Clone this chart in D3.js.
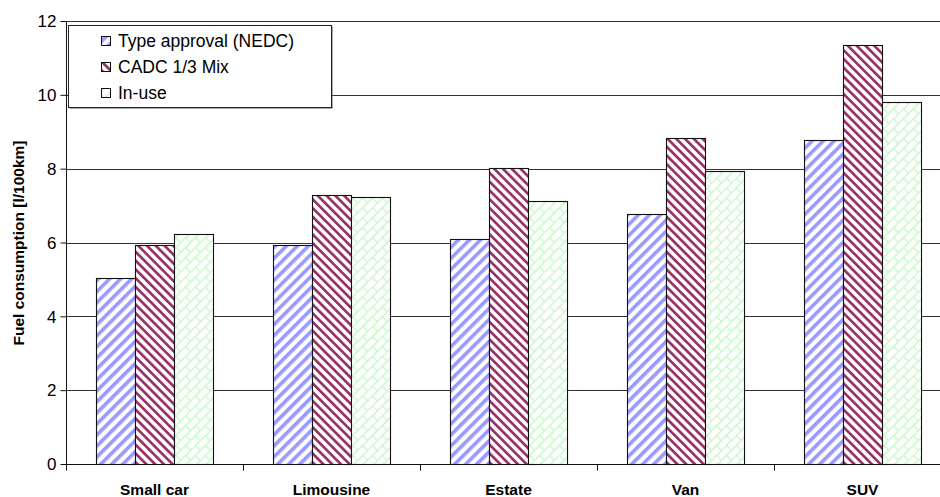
<!DOCTYPE html>
<html><head><meta charset="utf-8">
<script src="https://cdn.jsdelivr.net/npm/d3@7"></script>
<style>body{margin:0;background:#fff}svg{display:block}svg text{font-family:"Liberation Sans",Arial,sans-serif}</style>
</head><body><svg id="c" width="940" height="497"></svg>
<script>
const categories = ["Small car","Limousine","Estate","Van","SUV"];
const seriesNames = ["Type approval (NEDC)","CADC 1/3 Mix","In-use"];
const typeApproval = [5.03,5.93,6.1,6.78,8.77];
const cadcMix = [5.93,7.28,8.03,8.83,11.35];
const inUse = [6.24,7.22,7.12,7.95,9.8];
const yTicks = [0,2,4,6,8,10,12];

const seriesValues = [typeApproval, cadcMix, inUse];
const svg = d3.select("#c");
const L=66, T=21, B=464, R=951;
const y = d3.scaleLinear().domain([0,12]).range([B,T]);
const x0 = d3.scaleBand().domain(categories).range([L,R]).padding(0);
const x1 = d3.scaleBand().domain(seriesNames).range([30,147]).padding(0);

const defs = svg.append("defs");
function stripe(id, angle, period, w, color){
  const p = defs.append("pattern").attr("id",id).attr("patternUnits","userSpaceOnUse")
    .attr("width",period).attr("height",period).attr("patternTransform",`rotate(${angle})`);
  p.append("rect").attr("width",period).attr("height",period).attr("fill","#fff");
  p.append("rect").attr("width",w).attr("height",period).attr("fill",color);
}
stripe("pBlue",45,7.8,3.6,"#9999ff");
stripe("pRed",-45,6.2,2.7,"#993366");
{
  const s=14, h=7;
  const p = defs.append("pattern").attr("id","pGreen").attr("patternUnits","userSpaceOnUse")
    .attr("width",s).attr("height",s).attr("patternTransform","rotate(-45)");
  p.append("rect").attr("width",s).attr("height",s).attr("fill","#fff");
  const g = p.append("g").attr("stroke","#c6f7c6").attr("stroke-width",1.3).attr("fill","none");
  g.append("path").attr("d",`M0,0.5H${s}M0,${h+0.5}H${s}M0.5,0V${h}M${h+0.5},${h}V${s}`);
}
const fills = ["url(#pBlue)","url(#pRed)","url(#pGreen)"];

// gridlines
svg.append("g").selectAll("line").data(yTicks.filter(d=>d>0)).join("line")
  .attr("x1",L).attr("x2",R).attr("y1",d=>Math.round(y(d))+0.5).attr("y2",d=>Math.round(y(d))+0.5)
  .attr("stroke","#333").attr("stroke-width",1);

// bars
const groups = svg.append("g").selectAll("g").data(categories).join("g")
  .attr("transform",d=>`translate(${x0(d)},0)`);
groups.selectAll("rect").data((c,i)=>seriesNames.map((s,j)=>({s,j,v:seriesValues[j][i]}))).join("rect")
  .attr("x",d=>x1(d.s)+0.5).attr("width",x1.bandwidth())
  .attr("y",d=>Math.round(y(d.v))+0.5).attr("height",d=>B-Math.round(y(d.v)))
  .attr("fill",d=>fills[d.j]).attr("stroke","#111").attr("stroke-width",1.1);

// y axis
const ya = svg.append("g").attr("transform",`translate(${L+0.5},0)`)
  .call(d3.axisLeft(y).tickValues(yTicks).tickSize(6).tickPadding(4).tickFormat(d3.format("d")));
ya.attr("font-family",null);
ya.select(".domain").attr("stroke","#111").attr("d",`M-0,${T}V${B}`);
ya.selectAll(".tick line").attr("stroke","#111");
ya.selectAll("text").attr("font-size",17).attr("fill","#000").attr("dy","0.34em");

// x axis
const xa = svg.append("g").attr("transform",`translate(0,${B+0.5})`);
xa.append("line").attr("x1",L).attr("x2",R).attr("stroke","#111");
xa.selectAll("line.t").data(categories.concat(["__end"])).join("line").attr("class","t")
  .attr("x1",(d,i)=>Math.round(L+i*x0.bandwidth())+0.5).attr("x2",(d,i)=>Math.round(L+i*x0.bandwidth())+0.5)
  .attr("y1",0).attr("y2",6).attr("stroke","#111");
xa.selectAll("text").data(categories).join("text")
  .attr("x",d=>x0(d)+x0.bandwidth()/2).attr("y",30.5).attr("text-anchor","middle")
  .attr("font-size",15.5).attr("font-weight","bold").text(d=>d);

// y title
svg.append("text").attr("transform","translate(24,243) rotate(-90)").attr("text-anchor","middle")
  .attr("font-size",15.5).attr("font-weight","bold").text("Fuel consumption [l/100km]");

// top border
svg.append("line").attr("x1",L).attr("x2",R).attr("y1",T+0.5).attr("y2",T+0.5).attr("stroke","#333");

// legend
const lg = svg.append("g");
lg.append("rect").attr("x",69.5).attr("y",26.5).attr("width",263).attr("height",82).attr("fill","#555");
lg.append("rect").attr("x",68.5).attr("y",25.5).attr("width",263).attr("height",82).attr("fill","#fff").attr("stroke","#222");
const items = lg.selectAll("g").data(seriesNames).join("g")
  .attr("transform",(d,i)=>`translate(0,${[41,67,93][i]})`);
items.append("rect").attr("x",101.5).attr("y",-4.5).attr("width",9).attr("height",9)
  .attr("fill",(d,i)=>fills[i]).attr("stroke","#111");
items.append("text").attr("x",118).attr("y",6).attr("font-size",17.5).text(d=>d);
</script></body></html>
